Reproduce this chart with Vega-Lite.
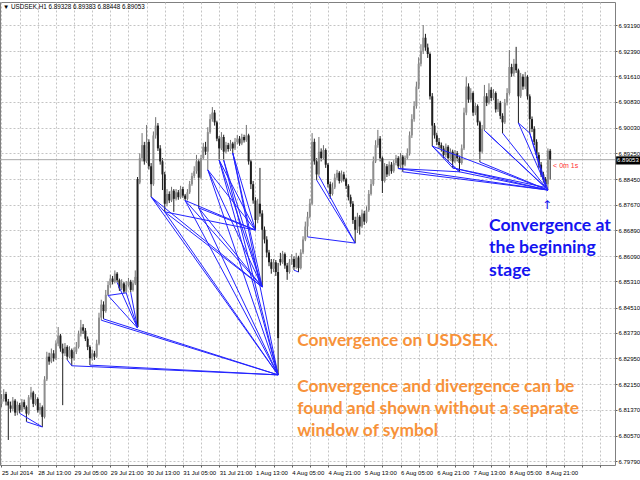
{
  "$schema": "https://vega.github.io/schema/vega-lite/v6.json",
  "width": 615,
  "height": 463,
  "autosize": {"type": "none"},
  "padding": {"left": 0, "top": 2, "right": 25, "bottom": 15},
  "background": "white",
  "resolve": {"axis": {"x": "independent", "y": "independent"}},
  "config": {
    "view": {"stroke": "#808080"},
    "axis": {
      "domain": false,
      "grid": true,
      "gridColor": "#c4c4c4",
      "gridDash": [2, 2],
      "tickColor": "#606060",
      "tickSize": 2,
      "labelFont": "Liberation Sans",
      "labelFontSize": 6,
      "labelColor": "#000000",
      "labelPadding": 1,
      "labelOverlap": false
    },
    "axisX": {"labelAlign": "left", "labelPadding": 2},
    "axisY": {"labelAlign": "left", "labelBaseline": "middle"}
  },
  "datasets": {
    "candles": [
      {"i":0,"o":6.8155,"h":6.8185,"l":6.8145,"c":6.8170},
      {"i":1,"o":6.8170,"h":6.8200,"l":6.8162,"c":6.8185},
      {"i":2,"o":6.8185,"h":6.8192,"l":6.8150,"c":6.8162},
      {"i":3,"o":6.8162,"h":6.8170,"l":6.8044,"c":6.8150},
      {"i":4,"o":6.8150,"h":6.8162,"l":6.8128,"c":6.8140},
      {"i":5,"o":6.8140,"h":6.8176,"l":6.8132,"c":6.8165},
      {"i":6,"o":6.8165,"h":6.8170,"l":6.8118,"c":6.8128},
      {"i":7,"o":6.8128,"h":6.8162,"l":6.8120,"c":6.8152},
      {"i":8,"o":6.8152,"h":6.8158,"l":6.8126,"c":6.8135},
      {"i":9,"o":6.8135,"h":6.8170,"l":6.8130,"c":6.8160},
      {"i":10,"o":6.8160,"h":6.8168,"l":6.8138,"c":6.8145},
      {"i":11,"o":6.8145,"h":6.8150,"l":6.8100,"c":6.8125},
      {"i":12,"o":6.8125,"h":6.8182,"l":6.8120,"c":6.8175},
      {"i":13,"o":6.8175,"h":6.8207,"l":6.8168,"c":6.8190},
      {"i":14,"o":6.8190,"h":6.8195,"l":6.8145,"c":6.8155},
      {"i":15,"o":6.8155,"h":6.8185,"l":6.8150,"c":6.8170},
      {"i":16,"o":6.8170,"h":6.8175,"l":6.8128,"c":6.8135},
      {"i":17,"o":6.8135,"h":6.8158,"l":6.8122,"c":6.8145},
      {"i":18,"o":6.8145,"h":6.8150,"l":6.8084,"c":6.8115},
      {"i":19,"o":6.8115,"h":6.8240,"l":6.8110,"c":6.8230},
      {"i":20,"o":6.8230,"h":6.8315,"l":6.8225,"c":6.8300},
      {"i":21,"o":6.8300,"h":6.8312,"l":6.8275,"c":6.8285},
      {"i":22,"o":6.8285,"h":6.8325,"l":6.8280,"c":6.8310},
      {"i":23,"o":6.8310,"h":6.8320,"l":6.8285,"c":6.8295},
      {"i":24,"o":6.8295,"h":6.8350,"l":6.8290,"c":6.8340},
      {"i":25,"o":6.8340,"h":6.8391,"l":6.8332,"c":6.8365},
      {"i":26,"o":6.8365,"h":6.8370,"l":6.8315,"c":6.8325},
      {"i":27,"o":6.8325,"h":6.8340,"l":6.8151,"c":6.8310},
      {"i":28,"o":6.8310,"h":6.8342,"l":6.8302,"c":6.8330},
      {"i":29,"o":6.8330,"h":6.8335,"l":6.8290,"c":6.8300},
      {"i":30,"o":6.8300,"h":6.8332,"l":6.8295,"c":6.8320},
      {"i":31,"o":6.8320,"h":6.8325,"l":6.8272,"c":6.8295},
      {"i":32,"o":6.8295,"h":6.8328,"l":6.8288,"c":6.8315},
      {"i":33,"o":6.8315,"h":6.8345,"l":6.8308,"c":6.8330},
      {"i":34,"o":6.8330,"h":6.8380,"l":6.8325,"c":6.8370},
      {"i":35,"o":6.8370,"h":6.8413,"l":6.8362,"c":6.8390},
      {"i":36,"o":6.8390,"h":6.8400,"l":6.8370,"c":6.8380},
      {"i":37,"o":6.8380,"h":6.8388,"l":6.8348,"c":6.8355},
      {"i":38,"o":6.8355,"h":6.8362,"l":6.8320,"c":6.8330},
      {"i":39,"o":6.8330,"h":6.8335,"l":6.8274,"c":6.8295},
      {"i":40,"o":6.8295,"h":6.8322,"l":6.8288,"c":6.8310},
      {"i":41,"o":6.8310,"h":6.8318,"l":6.8290,"c":6.8300},
      {"i":42,"o":6.8300,"h":6.8352,"l":6.8296,"c":6.8340},
      {"i":43,"o":6.8340,"h":6.8435,"l":6.8335,"c":6.8420},
      {"i":44,"o":6.8420,"h":6.8475,"l":6.8412,"c":6.8460},
      {"i":45,"o":6.8460,"h":6.8470,"l":6.8416,"c":6.8440},
      {"i":46,"o":6.8440,"h":6.8505,"l":6.8435,"c":6.8490},
      {"i":47,"o":6.8490,"h":6.8532,"l":6.8488,"c":6.8520},
      {"i":48,"o":6.8520,"h":6.8552,"l":6.8512,"c":6.8540},
      {"i":49,"o":6.8540,"h":6.8548,"l":6.8522,"c":6.8530},
      {"i":50,"o":6.8530,"h":6.8565,"l":6.8525,"c":6.8555},
      {"i":51,"o":6.8555,"h":6.8560,"l":6.8528,"c":6.8535},
      {"i":52,"o":6.8535,"h":6.8540,"l":6.8502,"c":6.8510},
      {"i":53,"o":6.8510,"h":6.8538,"l":6.8505,"c":6.8525},
      {"i":54,"o":6.8525,"h":6.8530,"l":6.8495,"c":6.8500},
      {"i":55,"o":6.8500,"h":6.8532,"l":6.8496,"c":6.8520},
      {"i":56,"o":6.8520,"h":6.8542,"l":6.8515,"c":6.8530},
      {"i":57,"o":6.8530,"h":6.8536,"l":6.8498,"c":6.8505},
      {"i":58,"o":6.8505,"h":6.8535,"l":6.8500,"c":6.8525},
      {"i":59,"o":6.8525,"h":6.8565,"l":6.8520,"c":6.8545},
      {"i":60,"o":6.8846,"h":6.8852,"l":6.8388,"c":6.8391},
      {"i":61,"o":6.8835,"h":6.8925,"l":6.8830,"c":6.8910},
      {"i":62,"o":6.8910,"h":6.8987,"l":6.8900,"c":6.8950},
      {"i":63,"o":6.8950,"h":6.8960,"l":6.8890,"c":6.8900},
      {"i":64,"o":6.8900,"h":6.9012,"l":6.8895,"c":6.8960},
      {"i":65,"o":6.8960,"h":6.8968,"l":6.8875,"c":6.8885},
      {"i":66,"o":6.8885,"h":6.8895,"l":6.8791,"c":6.8830},
      {"i":67,"o":6.8830,"h":6.8992,"l":6.8825,"c":6.8980},
      {"i":68,"o":6.8980,"h":6.9036,"l":6.8970,"c":6.9010},
      {"i":69,"o":6.9010,"h":6.9018,"l":6.8932,"c":6.8940},
      {"i":70,"o":6.8940,"h":6.8950,"l":6.8890,"c":6.8900},
      {"i":71,"o":6.8900,"h":6.8910,"l":6.8812,"c":6.8860},
      {"i":72,"o":6.8860,"h":6.8868,"l":6.8745,"c":6.8770},
      {"i":73,"o":6.8770,"h":6.8815,"l":6.8762,"c":6.8800},
      {"i":74,"o":6.8800,"h":6.8808,"l":6.8772,"c":6.8780},
      {"i":75,"o":6.8780,"h":6.8822,"l":6.8775,"c":6.8810},
      {"i":76,"o":6.8810,"h":6.8815,"l":6.8745,"c":6.8785},
      {"i":77,"o":6.8785,"h":6.8815,"l":6.8780,"c":6.8805},
      {"i":78,"o":6.8805,"h":6.8812,"l":6.8782,"c":6.8790},
      {"i":79,"o":6.8790,"h":6.8825,"l":6.8785,"c":6.8815},
      {"i":80,"o":6.8815,"h":6.8822,"l":6.8788,"c":6.8795},
      {"i":81,"o":6.8795,"h":6.8800,"l":6.8780,"c":6.8785},
      {"i":82,"o":6.8785,"h":6.8815,"l":6.8780,"c":6.8805},
      {"i":83,"o":6.8805,"h":6.8840,"l":6.8800,"c":6.8830},
      {"i":84,"o":6.8830,"h":6.8865,"l":6.8825,"c":6.8855},
      {"i":85,"o":6.8855,"h":6.8885,"l":6.8848,"c":6.8870},
      {"i":86,"o":6.8870,"h":6.8920,"l":6.8862,"c":6.8900},
      {"i":87,"o":6.8900,"h":6.8908,"l":6.8757,"c":6.8850},
      {"i":88,"o":6.8850,"h":6.8920,"l":6.8845,"c":6.8910},
      {"i":89,"o":6.8910,"h":6.8957,"l":6.8905,"c":6.8945},
      {"i":90,"o":6.8945,"h":6.8960,"l":6.8920,"c":6.8930},
      {"i":91,"o":6.8930,"h":6.9005,"l":6.8874,"c":6.8990},
      {"i":92,"o":6.8990,"h":6.9045,"l":6.8985,"c":6.9030},
      {"i":93,"o":6.9030,"h":6.9067,"l":6.9022,"c":6.9050},
      {"i":94,"o":6.9050,"h":6.9058,"l":6.9010,"c":6.9020},
      {"i":95,"o":6.9020,"h":6.9025,"l":6.8962,"c":6.8970},
      {"i":96,"o":6.8970,"h":6.8978,"l":6.8904,"c":6.8940},
      {"i":97,"o":6.8940,"h":6.8990,"l":6.8935,"c":6.8975},
      {"i":98,"o":6.8975,"h":6.8982,"l":6.8904,"c":6.8930},
      {"i":99,"o":6.8930,"h":6.8960,"l":6.8925,"c":6.8950},
      {"i":100,"o":6.8950,"h":6.8957,"l":6.8930,"c":6.8938},
      {"i":101,"o":6.8938,"h":6.8966,"l":6.8932,"c":6.8955},
      {"i":102,"o":6.8955,"h":6.8960,"l":6.8926,"c":6.8940},
      {"i":103,"o":6.8940,"h":6.8972,"l":6.8935,"c":6.8960},
      {"i":104,"o":6.8960,"h":6.8981,"l":6.8952,"c":6.8970},
      {"i":105,"o":6.8970,"h":6.8978,"l":6.8948,"c":6.8955},
      {"i":106,"o":6.8955,"h":6.8985,"l":6.8950,"c":6.8975},
      {"i":107,"o":6.8975,"h":6.8982,"l":6.8958,"c":6.8965},
      {"i":108,"o":6.8965,"h":6.9012,"l":6.8960,"c":6.8980},
      {"i":109,"o":6.8980,"h":6.8985,"l":6.8890,"c":6.8900},
      {"i":110,"o":6.8900,"h":6.8905,"l":6.8815,"c":6.8830},
      {"i":111,"o":6.8830,"h":6.8840,"l":6.8770,"c":6.8780},
      {"i":112,"o":6.8780,"h":6.8790,"l":6.8689,"c":6.8720},
      {"i":113,"o":6.8720,"h":6.8785,"l":6.8710,"c":6.8770},
      {"i":114,"o":6.8770,"h":6.8880,"l":6.8730,"c":6.8740},
      {"i":115,"o":6.8740,"h":6.8750,"l":6.8514,"c":6.8690},
      {"i":116,"o":6.8690,"h":6.8700,"l":6.8648,"c":6.8660},
      {"i":117,"o":6.8660,"h":6.8670,"l":6.8605,"c":6.8620},
      {"i":118,"o":6.8620,"h":6.8628,"l":6.8578,"c":6.8590},
      {"i":119,"o":6.8590,"h":6.8600,"l":6.8555,"c":6.8570},
      {"i":120,"o":6.8570,"h":6.8600,"l":6.8560,"c":6.8590},
      {"i":121,"o":6.8590,"h":6.8597,"l":6.8548,"c":6.8560},
      {"i":122,"o":6.8560,"h":6.8588,"l":6.8244,"c":6.8357},
      {"i":123,"o":6.8600,"h":6.8619,"l":6.8580,"c":6.8590},
      {"i":124,"o":6.8590,"h":6.8625,"l":6.8585,"c":6.8615},
      {"i":125,"o":6.8615,"h":6.8620,"l":6.8570,"c":6.8580},
      {"i":126,"o":6.8580,"h":6.8588,"l":6.8536,"c":6.8560},
      {"i":127,"o":6.8560,"h":6.8600,"l":6.8555,"c":6.8590},
      {"i":128,"o":6.8590,"h":6.8615,"l":6.8582,"c":6.8600},
      {"i":129,"o":6.8600,"h":6.8608,"l":6.8566,"c":6.8575},
      {"i":130,"o":6.8575,"h":6.8619,"l":6.8570,"c":6.8605},
      {"i":131,"o":6.8605,"h":6.8610,"l":6.8560,"c":6.8572},
      {"i":132,"o":6.8572,"h":6.8630,"l":6.8568,"c":6.8620},
      {"i":133,"o":6.8620,"h":6.8670,"l":6.8615,"c":6.8660},
      {"i":134,"o":6.8660,"h":6.8715,"l":6.8655,"c":6.8700},
      {"i":135,"o":6.8700,"h":6.8745,"l":6.8668,"c":6.8730},
      {"i":136,"o":6.8730,"h":6.8785,"l":6.8725,"c":6.8770},
      {"i":137,"o":6.8770,"h":6.8987,"l":6.8765,"c":6.8960},
      {"i":138,"o":6.8960,"h":6.8970,"l":6.8890,"c":6.8900},
      {"i":139,"o":6.8900,"h":6.8910,"l":6.8843,"c":6.8860},
      {"i":140,"o":6.8860,"h":6.8975,"l":6.8855,"c":6.8930},
      {"i":141,"o":6.8930,"h":6.8940,"l":6.8900,"c":6.8910},
      {"i":142,"o":6.8910,"h":6.8950,"l":6.8905,"c":6.8935},
      {"i":143,"o":6.8935,"h":6.8940,"l":6.8880,"c":6.8890},
      {"i":144,"o":6.8890,"h":6.8895,"l":6.8820,"c":6.8830},
      {"i":145,"o":6.8830,"h":6.8838,"l":6.8785,"c":6.8800},
      {"i":146,"o":6.8800,"h":6.8835,"l":6.8795,"c":6.8820},
      {"i":147,"o":6.8820,"h":6.8862,"l":6.8815,"c":6.8850},
      {"i":148,"o":6.8850,"h":6.8874,"l":6.8842,"c":6.8865},
      {"i":149,"o":6.8865,"h":6.8870,"l":6.8832,"c":6.8840},
      {"i":150,"o":6.8840,"h":6.8872,"l":6.8835,"c":6.8860},
      {"i":151,"o":6.8860,"h":6.8868,"l":6.8838,"c":6.8845},
      {"i":152,"o":6.8845,"h":6.8850,"l":6.8815,"c":6.8825},
      {"i":153,"o":6.8825,"h":6.8830,"l":6.8780,"c":6.8790},
      {"i":154,"o":6.8790,"h":6.8798,"l":6.8760,"c":6.8770},
      {"i":155,"o":6.8770,"h":6.8778,"l":6.8708,"c":6.8720},
      {"i":156,"o":6.8720,"h":6.8730,"l":6.8649,"c":6.8690},
      {"i":157,"o":6.8690,"h":6.8742,"l":6.8680,"c":6.8730},
      {"i":158,"o":6.8730,"h":6.8735,"l":6.8675,"c":6.8700},
      {"i":159,"o":6.8700,"h":6.8752,"l":6.8695,"c":6.8740},
      {"i":160,"o":6.8740,"h":6.8748,"l":6.8705,"c":6.8715},
      {"i":161,"o":6.8715,"h":6.8762,"l":6.8710,"c":6.8750},
      {"i":162,"o":6.8750,"h":6.8812,"l":6.8745,"c":6.8800},
      {"i":163,"o":6.8800,"h":6.8845,"l":6.8795,"c":6.8830},
      {"i":164,"o":6.8830,"h":6.8915,"l":6.8825,"c":6.8900},
      {"i":165,"o":6.8900,"h":6.8965,"l":6.8895,"c":6.8950},
      {"i":166,"o":6.8950,"h":6.8997,"l":6.8942,"c":6.8970},
      {"i":167,"o":6.8970,"h":6.8978,"l":6.8900,"c":6.8910},
      {"i":168,"o":6.8910,"h":6.8915,"l":6.8803,"c":6.8840},
      {"i":169,"o":6.8840,"h":6.8895,"l":6.8835,"c":6.8885},
      {"i":170,"o":6.8885,"h":6.8892,"l":6.8852,"c":6.8860},
      {"i":171,"o":6.8860,"h":6.8900,"l":6.8855,"c":6.8890},
      {"i":172,"o":6.8890,"h":6.8898,"l":6.8862,"c":6.8870},
      {"i":173,"o":6.8870,"h":6.8904,"l":6.8865,"c":6.8895},
      {"i":174,"o":6.8895,"h":6.8920,"l":6.8888,"c":6.8910},
      {"i":175,"o":6.8910,"h":6.8916,"l":6.8878,"c":6.8885},
      {"i":176,"o":6.8885,"h":6.8926,"l":6.8880,"c":6.8915},
      {"i":177,"o":6.8915,"h":6.8920,"l":6.8868,"c":6.8890},
      {"i":178,"o":6.8890,"h":6.8918,"l":6.8885,"c":6.8910},
      {"i":179,"o":6.8910,"h":6.8940,"l":6.8905,"c":6.8925},
      {"i":180,"o":6.8925,"h":6.8992,"l":6.8918,"c":6.8980},
      {"i":181,"o":6.8980,"h":6.9045,"l":6.8972,"c":6.9030},
      {"i":182,"o":6.9030,"h":6.9085,"l":6.9022,"c":6.9070},
      {"i":183,"o":6.9070,"h":6.9145,"l":6.9062,"c":6.9130},
      {"i":184,"o":6.9130,"h":6.9220,"l":6.9122,"c":6.9200},
      {"i":185,"o":6.9200,"h":6.9260,"l":6.9192,"c":6.9240},
      {"i":186,"o":6.9240,"h":6.9319,"l":6.9230,"c":6.9280},
      {"i":187,"o":6.9280,"h":6.9292,"l":6.9240,"c":6.9250},
      {"i":188,"o":6.9250,"h":6.9262,"l":6.9218,"c":6.9230},
      {"i":189,"o":6.9230,"h":6.9235,"l":6.9090,"c":6.9100},
      {"i":190,"o":6.9100,"h":6.9110,"l":6.8947,"c":6.9010},
      {"i":191,"o":6.9010,"h":6.9018,"l":6.8970,"c":6.8980},
      {"i":192,"o":6.8980,"h":6.8988,"l":6.8950,"c":6.8960},
      {"i":193,"o":6.8960,"h":6.8972,"l":6.8940,"c":6.8950},
      {"i":194,"o":6.8950,"h":6.8958,"l":6.8930,"c":6.8940},
      {"i":195,"o":6.8940,"h":6.8948,"l":6.8910,"c":6.8920},
      {"i":196,"o":6.8920,"h":6.8955,"l":6.8912,"c":6.8945},
      {"i":197,"o":6.8945,"h":6.8950,"l":6.8900,"c":6.8910},
      {"i":198,"o":6.8910,"h":6.8940,"l":6.8902,"c":6.8930},
      {"i":199,"o":6.8930,"h":6.8936,"l":6.8880,"c":6.8900},
      {"i":200,"o":6.8900,"h":6.8935,"l":6.8895,"c":6.8925},
      {"i":201,"o":6.8925,"h":6.8932,"l":6.8900,"c":6.8910},
      {"i":202,"o":6.8910,"h":6.8918,"l":6.8868,"c":6.8895},
      {"i":203,"o":6.8895,"h":6.8952,"l":6.8890,"c":6.8940},
      {"i":204,"o":6.8940,"h":6.9065,"l":6.8935,"c":6.9050},
      {"i":205,"o":6.9050,"h":6.9159,"l":6.9042,"c":6.9130},
      {"i":206,"o":6.9130,"h":6.9140,"l":6.9080,"c":6.9090},
      {"i":207,"o":6.9090,"h":6.9125,"l":6.9082,"c":6.9110},
      {"i":208,"o":6.9110,"h":6.9115,"l":6.9040,"c":6.9050},
      {"i":209,"o":6.9050,"h":6.9080,"l":6.9042,"c":6.9070},
      {"i":210,"o":6.9070,"h":6.9075,"l":6.9010,"c":6.9020},
      {"i":211,"o":6.9020,"h":6.9025,"l":6.8898,"c":6.8930},
      {"i":212,"o":6.8930,"h":6.9012,"l":6.8925,"c":6.9000},
      {"i":213,"o":6.9000,"h":6.9135,"l":6.8995,"c":6.9100},
      {"i":214,"o":6.9100,"h":6.9110,"l":6.9070,"c":6.9080},
      {"i":215,"o":6.9080,"h":6.9140,"l":6.9075,"c":6.9120},
      {"i":216,"o":6.9120,"h":6.9128,"l":6.9085,"c":6.9095},
      {"i":217,"o":6.9095,"h":6.9122,"l":6.9088,"c":6.9110},
      {"i":218,"o":6.9110,"h":6.9115,"l":6.9050,"c":6.9060},
      {"i":219,"o":6.9060,"h":6.9092,"l":6.9052,"c":6.9080},
      {"i":220,"o":6.9080,"h":6.9086,"l":6.9030,"c":6.9040},
      {"i":221,"o":6.9040,"h":6.9048,"l":6.8987,"c":6.9020},
      {"i":222,"o":6.9020,"h":6.9092,"l":6.9015,"c":6.9080},
      {"i":223,"o":6.9080,"h":6.9125,"l":6.9072,"c":6.9110},
      {"i":224,"o":6.9110,"h":6.9242,"l":6.9105,"c":6.9190},
      {"i":225,"o":6.9190,"h":6.9200,"l":6.9160,"c":6.9170},
      {"i":226,"o":6.9170,"h":6.9215,"l":6.9162,"c":6.9200},
      {"i":227,"o":6.9200,"h":6.9252,"l":6.9172,"c":6.9180},
      {"i":228,"o":6.9180,"h":6.9185,"l":6.9018,"c":6.9100},
      {"i":229,"o":6.9100,"h":6.9172,"l":6.9095,"c":6.9160},
      {"i":230,"o":6.9160,"h":6.9168,"l":6.9120,"c":6.9130},
      {"i":231,"o":6.9130,"h":6.9175,"l":6.9122,"c":6.9160},
      {"i":232,"o":6.9160,"h":6.9165,"l":6.9090,"c":6.9100},
      {"i":233,"o":6.9100,"h":6.9106,"l":6.8987,"c":6.9030},
      {"i":234,"o":6.9030,"h":6.9038,"l":6.8990,"c":6.9000},
      {"i":235,"o":6.9000,"h":6.9008,"l":6.8950,"c":6.8960},
      {"i":236,"o":6.8960,"h":6.8968,"l":6.8910,"c":6.8920},
      {"i":237,"o":6.8920,"h":6.8928,"l":6.8880,"c":6.8890},
      {"i":238,"o":6.8890,"h":6.8898,"l":6.8852,"c":6.8860},
      {"i":239,"o":6.8860,"h":6.8868,"l":6.8835,"c":6.8845},
      {"i":240,"o":6.8845,"h":6.8852,"l":6.8820,"c":6.8830},
      {"i":241,"o":6.8830,"h":6.8940,"l":6.8812,"c":6.8933},
      {"i":242,"o":6.89328,"h":6.89383,"l":6.88448,"c":6.89053}
    ],
    "lines": [
      {"x1":8,"p1":6.8126,"x2":18,"p2":6.8084},
      {"x1":11,"p1":6.8100,"x2":18,"p2":6.8084},
      {"x1":29,"p1":6.8290,"x2":31,"p2":6.8272},
      {"x1":31,"p1":6.8272,"x2":122,"p2":6.8244},
      {"x1":39,"p1":6.8274,"x2":122,"p2":6.8244},
      {"x1":45,"p1":6.8416,"x2":122,"p2":6.8244},
      {"x1":44,"p1":6.8412,"x2":122,"p2":6.8244},
      {"x1":47,"p1":6.8488,"x2":55,"p2":6.8496},
      {"x1":47,"p1":6.8488,"x2":60,"p2":6.8388},
      {"x1":51,"p1":6.8528,"x2":60,"p2":6.8388},
      {"x1":55,"p1":6.8496,"x2":60,"p2":6.8388},
      {"x1":57,"p1":6.8498,"x2":60,"p2":6.8388},
      {"x1":66,"p1":6.8791,"x2":72,"p2":6.8745},
      {"x1":66,"p1":6.8791,"x2":115,"p2":6.8514},
      {"x1":66,"p1":6.8791,"x2":122,"p2":6.8244},
      {"x1":72,"p1":6.8745,"x2":112,"p2":6.8689},
      {"x1":72,"p1":6.8745,"x2":115,"p2":6.8514},
      {"x1":72,"p1":6.8745,"x2":122,"p2":6.8244},
      {"x1":81,"p1":6.8780,"x2":112,"p2":6.8689},
      {"x1":81,"p1":6.8780,"x2":115,"p2":6.8514},
      {"x1":81,"p1":6.8780,"x2":122,"p2":6.8244},
      {"x1":87,"p1":6.8757,"x2":112,"p2":6.8689},
      {"x1":87,"p1":6.8757,"x2":115,"p2":6.8514},
      {"x1":87,"p1":6.8757,"x2":122,"p2":6.8244},
      {"x1":91,"p1":6.8874,"x2":112,"p2":6.8689},
      {"x1":91,"p1":6.8874,"x2":115,"p2":6.8514},
      {"x1":91,"p1":6.8874,"x2":122,"p2":6.8244},
      {"x1":96,"p1":6.8904,"x2":112,"p2":6.8689},
      {"x1":96,"p1":6.8904,"x2":115,"p2":6.8514},
      {"x1":96,"p1":6.8904,"x2":122,"p2":6.8244},
      {"x1":98,"p1":6.8904,"x2":115,"p2":6.8514},
      {"x1":98,"p1":6.8904,"x2":122,"p2":6.8244},
      {"x1":102,"p1":6.8926,"x2":112,"p2":6.8689},
      {"x1":102,"p1":6.8926,"x2":115,"p2":6.8514},
      {"x1":102,"p1":6.8926,"x2":122,"p2":6.8244},
      {"x1":129,"p1":6.8566,"x2":131,"p2":6.8560},
      {"x1":135,"p1":6.8668,"x2":156,"p2":6.8649},
      {"x1":139,"p1":6.8843,"x2":156,"p2":6.8649},
      {"x1":140,"p1":6.8855,"x2":156,"p2":6.8649},
      {"x1":177,"p1":6.8868,"x2":241,"p2":6.8812},
      {"x1":175,"p1":6.8878,"x2":241,"p2":6.8812},
      {"x1":175,"p1":6.8878,"x2":202,"p2":6.8868},
      {"x1":190,"p1":6.8947,"x2":199,"p2":6.8880},
      {"x1":190,"p1":6.8947,"x2":202,"p2":6.8868},
      {"x1":190,"p1":6.8947,"x2":241,"p2":6.8812},
      {"x1":199,"p1":6.8880,"x2":241,"p2":6.8812},
      {"x1":199,"p1":6.8880,"x2":240,"p2":6.8820},
      {"x1":202,"p1":6.8868,"x2":241,"p2":6.8812},
      {"x1":197,"p1":6.8900,"x2":202,"p2":6.8868},
      {"x1":211,"p1":6.8898,"x2":241,"p2":6.8812},
      {"x1":213,"p1":6.8995,"x2":241,"p2":6.8812},
      {"x1":213,"p1":6.8995,"x2":240,"p2":6.8820},
      {"x1":221,"p1":6.8987,"x2":241,"p2":6.8812},
      {"x1":228,"p1":6.9018,"x2":233,"p2":6.8987},
      {"x1":228,"p1":6.9018,"x2":241,"p2":6.8812},
      {"x1":233,"p1":6.8987,"x2":241,"p2":6.8812},
      {"x1":233,"p1":6.8987,"x2":240,"p2":6.8820}
    ]
  },
  "layer": [
    {
      "data": {"name": "candles"},
      "mark": {"type": "rule", "strokeWidth": 1},
      "encoding": {
        "x": {
          "field": "i", "type": "quantitative", "title": null,
          "scale": {"domain": [-0.66, 270.6], "nice": false, "zero": false},
          "axis": {
            "orient": "bottom",
            "labelOverlap": false,
            "labelFlush": false,
            "labelBound": false,
            "values": [0,8,16,24,32,40,48,56,64,72,80,88,96,104,112,120,128,136,144,152,160,168,176,184,192,200,208,216,224,232,240,248,256,264],
            "labelExpr": "datum.value % 16 == 0 && datum.value <= 240 ? ['25 Jul 2014','28 Jul 13:00','29 Jul 05:00','29 Jul 21:00','30 Jul 13:00','31 Jul 05:00','31 Jul 21:00','1 Aug 13:00','4 Aug 05:00','4 Aug 21:00','5 Aug 13:00','6 Aug 05:00','6 Aug 21:00','7 Aug 13:00','8 Aug 05:00','8 Aug 21:00'][datum.value / 16] : ''"
          }
        },
        "y": {
          "field": "l", "type": "quantitative", "title": null,
          "scale": {"domain": [6.796706, 6.938985], "nice": false, "zero": false},
          "axis": {
            "orient": "right",
            "labelOverlap": false,
            "labelFlush": false,
            "labelBound": false,
            "values": [6.7979,6.8057,6.8137,6.8215,6.8295,6.8373,6.8451,6.8531,6.8609,6.8689,6.8767,6.8845,6.8925,6.9003,6.9083,6.9161,6.9239,6.9319],
            "format": ".5f"
          }
        },
        "y2": {"field": "h"},
        "color": {"condition": {"test": "datum.c > datum.o", "value": "#707070"}, "value": "#1e1e1e"}
      }
    },
    {
      "data": {"values": [{"bid": 6.89053}]},
      "mark": {"type": "rule", "color": "#a8a8a8", "strokeWidth": 1},
      "encoding": {
        "y": {"field": "bid", "type": "quantitative", "axis": null}
      }
    },
    {
      "data": {"name": "candles"},
      "mark": {"type": "rule", "strokeWidth": 2},
      "encoding": {
        "x": {"field": "i", "type": "quantitative", "axis": null},
        "y": {"field": "o", "type": "quantitative", "axis": null},
        "y2": {"field": "c"},
        "color": {"condition": {"test": "datum.c > datum.o", "value": "#8e8e8e"}, "value": "#1e1e1e"}
      }
    },
    {
      "data": {"name": "lines"},
      "mark": {"type": "rule", "color": "#2323ff", "strokeWidth": 1},
      "encoding": {
        "x": {"field": "x1", "type": "quantitative", "axis": null},
        "y": {"field": "p1", "type": "quantitative", "axis": null},
        "x2": {"field": "x2"},
        "y2": {"field": "p2"}
      }
    },
    {
      "data": {"values": [{}]},
      "mark": {"type": "text", "text": "\u25bc USDSEK,H1  6.89328 6.89383 6.88448 6.89053", "font": "Liberation Sans", "fontSize": 6.3, "color": "#000000", "align": "left", "baseline": "middle"},
      "encoding": {
        "x": {"datum": 0.7, "type": "quantitative", "axis": null},
        "y": {"datum": 6.9373, "type": "quantitative", "axis": null}
      }
    },
    {
      "data": {"values": [{}]},
      "mark": {"type": "text", "text": "Convergence at", "font": "Lato", "fontWeight": "bold", "fontSize": 17.6, "color": "#1414f0", "align": "left", "baseline": "middle"},
      "encoding": {
        "x": {"datum": 215, "type": "quantitative", "axis": null},
        "y": {"datum": 6.87015, "type": "quantitative", "axis": null}
      }
    },
    {
      "data": {"values": [{}]},
      "mark": {"type": "text", "text": "the beginning", "font": "Lato", "fontWeight": "bold", "fontSize": 17.6, "color": "#1414f0", "align": "left", "baseline": "middle"},
      "encoding": {
        "x": {"datum": 215, "type": "quantitative", "axis": null},
        "y": {"datum": 6.86339, "type": "quantitative", "axis": null}
      }
    },
    {
      "data": {"values": [{}]},
      "mark": {"type": "text", "text": "stage", "font": "Lato", "fontWeight": "bold", "fontSize": 17.6, "color": "#1414f0", "align": "left", "baseline": "middle"},
      "encoding": {
        "x": {"datum": 215, "type": "quantitative", "axis": null},
        "y": {"datum": 6.85632, "type": "quantitative", "axis": null}
      }
    },
    {
      "data": {"values": [{}]},
      "mark": {"type": "text", "text": "Convergence on USDSEK.", "font": "Lato", "fontWeight": "bold", "fontSize": 17.4, "color": "#f7923a", "align": "left", "baseline": "middle"},
      "encoding": {
        "x": {"datum": 130.4, "type": "quantitative", "axis": null},
        "y": {"datum": 6.83481, "type": "quantitative", "axis": null}
      }
    },
    {
      "data": {"values": [{}]},
      "mark": {"type": "text", "text": "Convergence and divergence can be", "font": "Lato", "fontWeight": "bold", "fontSize": 17.4, "color": "#f7923a", "align": "left", "baseline": "middle"},
      "encoding": {
        "x": {"datum": 130.4, "type": "quantitative", "axis": null},
        "y": {"datum": 6.82067, "type": "quantitative", "axis": null}
      }
    },
    {
      "data": {"values": [{}]},
      "mark": {"type": "text", "text": "found and shown without a separate", "font": "Lato", "fontWeight": "bold", "fontSize": 17.4, "color": "#f7923a", "align": "left", "baseline": "middle"},
      "encoding": {
        "x": {"datum": 130.4, "type": "quantitative", "axis": null},
        "y": {"datum": 6.81391, "type": "quantitative", "axis": null}
      }
    },
    {
      "data": {"values": [{}]},
      "mark": {"type": "text", "text": "window of symbol", "font": "Lato", "fontWeight": "bold", "fontSize": 17.4, "color": "#f7923a", "align": "left", "baseline": "middle"},
      "encoding": {
        "x": {"datum": 130.4, "type": "quantitative", "axis": null},
        "y": {"datum": 6.80715, "type": "quantitative", "axis": null}
      }
    },
    {
      "data": {"values": [{}]},
      "mark": {"type": "text", "text": "< 0m 1s", "font": "Liberation Sans", "fontSize": 7, "color": "#ff3030", "align": "left", "baseline": "middle"},
      "encoding": {
        "x": {"datum": 243.3, "type": "quantitative", "axis": null},
        "y": {"datum": 6.8886, "type": "quantitative", "axis": null}
      }
    },
    {
      "data": {"values": [{}]},
      "mark": {"type": "text", "text": "\u2191", "font": "DejaVu Sans", "fontSize": 12, "color": "#1414f0", "align": "center", "baseline": "middle"},
      "encoding": {
        "x": {"datum": 240.6, "type": "quantitative", "axis": null},
        "y": {"datum": 6.8766, "type": "quantitative", "axis": null}
      }
    },
    {
      "data": {"values": [{}]},
      "mark": {"type": "rect", "color": "#000000"},
      "encoding": {
        "x": {"datum": 271.1, "type": "quantitative", "axis": null},
        "x2": {"datum": 282},
        "y": {"datum": 6.89155, "type": "quantitative", "axis": null},
        "y2": {"datum": 6.88905}
      }
    },
    {
      "data": {"values": [{}]},
      "mark": {"type": "text", "text": "6.89053", "font": "Liberation Sans", "fontSize": 6, "color": "#ffffff", "align": "left", "baseline": "middle"},
      "encoding": {
        "x": {"datum": 271.5, "type": "quantitative", "axis": null},
        "y": {"datum": 6.89053, "type": "quantitative", "axis": null}
      }
    }
  ]
}
